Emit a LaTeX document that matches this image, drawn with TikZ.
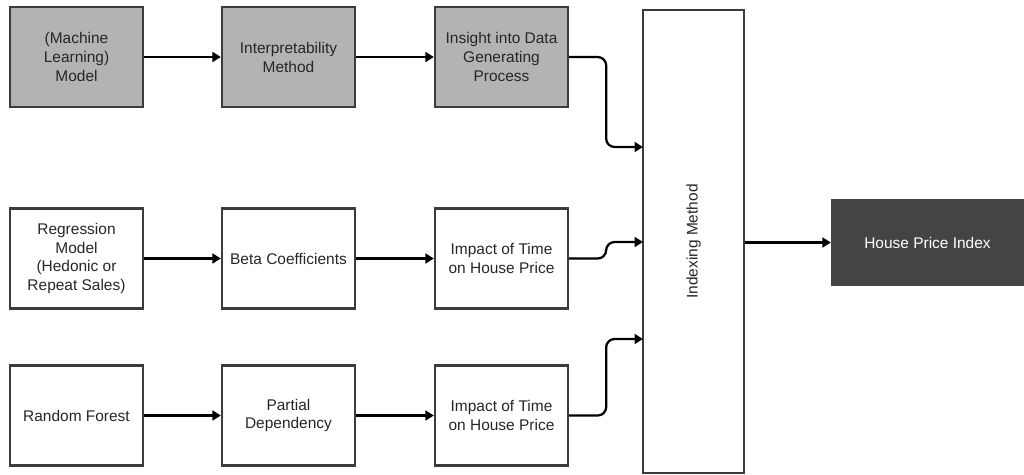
\documentclass[tikz,border=0pt]{standalone}
\usepackage{fontspec}
\setmainfont{Liberation Sans}
\usetikzlibrary{arrows.meta}
\definecolor{boxgray}{HTML}{B3B3B3}
\definecolor{boxline}{HTML}{3C3C3C}
\definecolor{darkbox}{HTML}{444444}
\begin{document}
\begin{tikzpicture}[x=0.025cm, y=-0.025cm,
        box/.style={draw=boxline, line width=1.6pt, minimum width=3.325cm, minimum height=2.5cm,
            align=center, inner sep=2pt, font=\fontsize{11}{13.5}\selectfont, text=black!85},
        shaded/.style={box, fill=boxgray},
        arr/.style={-{Triangle[length=6pt, width=7pt]}, line width=1.6pt, black}]
            \useasboundingbox (0, 0) rectangle (1024, 474);

            \node[shaded] (model) at (76.5, 57) {(Machine\\Learning)\\Model};
            \node[shaded] (interp) at (288.5, 57) {Interpretability\\Method};
            \node[shaded] (insight) at (501.5, 57) {Insight into Data\\Generating\\Process};

            \node[box] (regr) at (76.5, 258.5) {Regression\\Model\\(Hedonic or\\Repeat Sales)};
            \node[box] (beta) at (288.5, 258.5) {Beta Coefficients};
            \node[box] (impactA) at (501.5, 258.5) {Impact of Time\\on House Price};

            \node[box] (forest) at (76.5, 415.5) {Random Forest};
            \node[box] (pdp) at (288.5, 415.5) {Partial\\Dependency};
            \node[box] (impactB) at (501.5, 415.5) {Impact of Time\\on House Price};

            \node[box, minimum width=2.525cm, minimum height=11.575cm] (index) at (693.5, 241.5) {};
            \node[rotate=90, font=\fontsize{11}{13.5}\selectfont, text=black!85] (indexlabel) at (index.center) {Indexing Method};

            \node[box, draw=darkbox, fill=darkbox, text=white, minimum width=4.775cm, minimum height=2.125cm] (hpi) at (927.5, 242.5) {House Price Index};

            \coordinate (inA) at (643, 147);
            \coordinate (inB) at (643, 242);
            \coordinate (inC) at (643, 339);

            \draw[arr] (model) -- (interp);
            \draw[arr] (interp) -- (insight);
            \draw[arr] (regr) -- (beta);
            \draw[arr] (beta) -- (impactA);
            \draw[arr] (forest) -- (pdp);
            \draw[arr] (pdp) -- (impactB);

            \draw[arr, rounded corners=6pt] (insight.east) -- ++(37, 0) |- (inA);
            \draw[arr, rounded corners=6pt] (impactA.east) -- ++(37, 0) |- (inB);
            \draw[arr, rounded corners=6pt] (impactB.east) -- ++(37, 0) |- (inC);

            \draw[arr] (index.east |- hpi.west) -- (hpi.west);
        \end{tikzpicture}
\end{document}
